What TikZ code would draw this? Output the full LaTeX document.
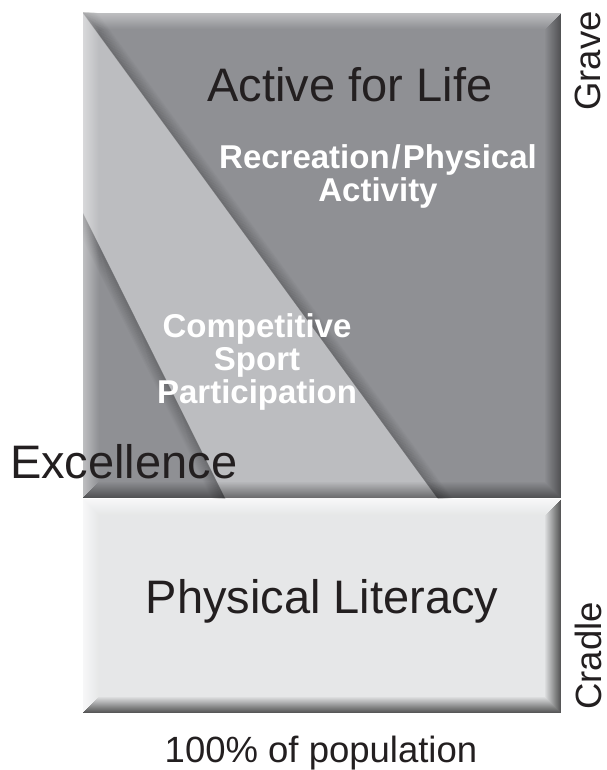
\documentclass[tikz,border=0pt]{standalone}
\usepackage{fontspec}
\setmainfont{Liberation Sans}
\usetikzlibrary{calc}

\definecolor{darkfill}{RGB}{143,144,148}
\definecolor{bandfill}{RGB}{188,189,192}
\definecolor{basefill}{RGB}{230,231,232}
\definecolor{inkgray}{RGB}{35,31,32}

% bevelled frame: x1, y1, x2, y2, light opacity, dark opacity
\newcommand{\bevel}[6]{%
  \foreach \i in {0,...,15}{
    \pgfmathsetmacro{\lt}{#5*(1-\i/16)}
    \pgfmathsetmacro{\dk}{#6*(1-\i/16)}
    \draw[white,opacity=\lt] (#1+\i,#2+\i+0.5) -- (#3-\i,#2+\i+0.5);
    \draw[white,opacity=\lt] (#1+\i+0.5,#2+\i+1) -- (#1+\i+0.5,#4-\i-1);
    \draw[black,opacity=\dk] (#3-\i-0.5,#2+\i+1) -- (#3-\i-0.5,#4-\i-1);
    \draw[black,opacity=\dk] (#1+\i,#4-\i-0.5) -- (#3-\i,#4-\i-0.5);
  }}

\tikzset{
  bigtext/.style={font=\fontsize{47}{47}\selectfont,text=inkgray,inner sep=0pt},
  whitetext/.style={font=\fontsize{33}{33}\selectfont\bfseries,text=white,align=center,inner sep=0pt},
  sidetext/.style={font=\fontsize{36.5}{36.5}\selectfont,text=inkgray,inner sep=0pt},
}

\begin{document}
\begin{tikzpicture}[x=1pt,y=-1pt,line width=1pt]
\useasboundingbox (0,0) rectangle (606,770);

% corners of the two stacked boxes
\coordinate (ul) at (83,13);
\coordinate (ur) at (561,13);
\coordinate (ml) at (83,498);
\coordinate (mr) at (561,498);
\coordinate (bl) at (83,499);
\coordinate (br) at (561,713);
% ends of the two slanted borders
\coordinate (slantA) at (437,498);
\coordinate (slantB) at (83,213);
\coordinate (slantC) at (225,498);

% upper box with the light band between the slants
\fill[darkfill] (ul) rectangle (mr);
\fill[bandfill] (ul) -- (slantA) -- (slantC) -- (slantB) -- cycle;

% soft shadows on the dark side of each slant
\begin{scope}
  \clip (ul) rectangle (mr);
  \foreach \i in {0,...,11}{
    \pgfmathsetmacro{\op}{0.2*(1-\i/12)}
    \draw[black,opacity=\op,line width=1.1pt]
      ([shift={(\i*0.808+0.4-12,-\i*0.590-0.3-16)}]ul) -- ([shift={(\i*0.808+0.4+12,-\i*0.590-0.3+16)}]slantA);
    \draw[black,opacity=\op,line width=1.1pt]
      ([shift={(-\i*0.895-0.45-9,\i*0.446+0.2-18)}]slantB) -- ([shift={(-\i*0.895-0.45+9,\i*0.446+0.2+18)}]slantC);
  }
\end{scope}

% lower box
\fill[basefill] (bl) rectangle (br);

\bevel{83}{13}{561}{498}{0.42}{0.42}
\bevel{83}{499}{561}{713}{0.7}{0.62}

% labels
\node[bigtext,anchor=base] (active) at (350,102) {Active for Life};
\node[whitetext,anchor=north] (recreation) at (378,144) {Recreation\kern2pt/\kern2pt Physical\\Activity};
\node[whitetext,anchor=north] (competitive) at (257,313) {Competitive\\Sport\\Participation};
\node[bigtext,anchor=base west] (excellence) at (9.5,478) {Excellence};
\node[bigtext,anchor=base] (literacy) at (322,613) {Physical Literacy};
\node[sidetext,anchor=base,rotate=90] (grave) at (600,61) {Grave};
\node[sidetext,anchor=base,rotate=90] (cradle) at (601,656) {Cradle};
\node[sidetext,anchor=base] (population) at (321,762) {100\% of population};
\end{tikzpicture}
\end{document}
